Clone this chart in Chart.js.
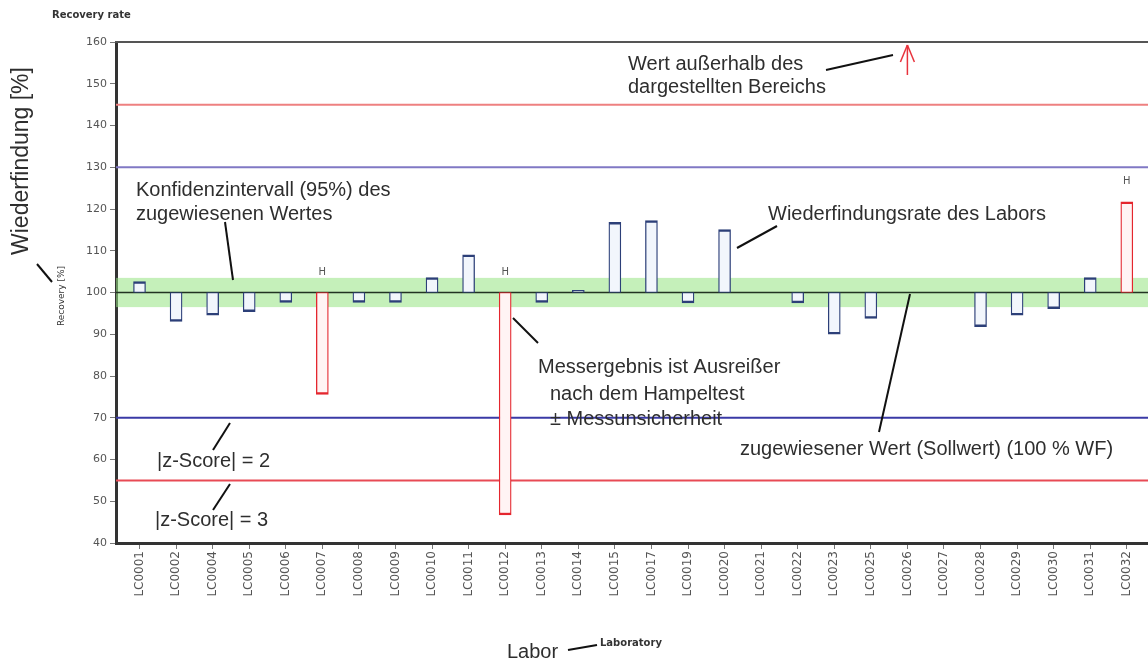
<!DOCTYPE html>
<html>
<head>
<meta charset="utf-8">
<script src="https://cdn.jsdelivr.net/npm/chart.js@4.4.1/dist/chart.umd.min.js"></script>
<style>
  html, body { margin: 0; padding: 0; background: #fff; }
  #wrap { width: 1148px; height: 662px; position: relative; }
</style>
</head>
<body>
<div id="wrap"><canvas id="chart" width="1148" height="662"></canvas></div>
<script>
// Laboratories taking part in the round
const labCodes = ['LC0001','LC0002','LC0004','LC0005','LC0006','LC0007','LC0008','LC0009','LC0010','LC0011',
                  'LC0012','LC0013','LC0014','LC0015','LC0017','LC0019','LC0020','LC0021','LC0022','LC0023',
                  'LC0025','LC0026','LC0027','LC0028','LC0029','LC0030','LC0031','LC0032'];
// Recovery rate of each laboratory in % (null: no bar shown)
const recoveryRates = [102.6, 93.1, 94.6, 95.4, 97.6, 75.6, 97.6, 97.6, 103.6, 109.0,
                       46.7, 97.6, 100.5, 116.8, 117.2, 97.5, 115.1, null, 97.5, 90.0,
                       93.8, null, null, 91.8, 94.6, 96.1, 103.6, 121.7];
// Results flagged as outliers by the Hampel test
const hampelOutliers = ['LC0007', 'LC0012', 'LC0032'];
// Results above the displayed range
const aboveRange = ['LC0026'];
// Assigned value and its 95 % confidence interval
const assignedValue = 100;
const confidenceInterval = [96.5, 103.5];
// |z-score| = 2 and |z-score| = 3 limits
const zScore2Limits = [70, 130];
const zScore3Limits = [55, 145];
// Y axis ticks
const yTicks = [40, 50, 60, 70, 80, 90, 100, 110, 120, 130, 140, 150, 160];

const TEXT = '#2e2e2e';
const FONT = '"Liberation Sans", Arial, sans-serif';
const SMALL = '"DejaVu Sans", sans-serif';

const isOutlier = i => hampelOutliers.includes(labCodes[i]);

const barData = recoveryRates
  .map((v, i) => (v === null ? null : { x: i, y: [assignedValue, v] }))
  .filter(d => d !== null);

function line(ctx, x1, y1, x2, y2, color, w) {
  ctx.save();
  ctx.strokeStyle = color;
  ctx.lineWidth = w;
  ctx.beginPath();
  ctx.moveTo(x1, y1);
  ctx.lineTo(x2, y2);
  ctx.stroke();
  ctx.restore();
}

function text(ctx, str, x, y, font, color, align) {
  ctx.save();
  ctx.font = font;
  ctx.fillStyle = color || TEXT;
  ctx.textAlign = align || 'left';
  ctx.textBaseline = 'middle';
  ctx.fillText(str, x, y);
  ctx.restore();
}

// Reference band and limit lines behind the bars
const referencePlugin = {
  id: 'reference',
  beforeDatasetsDraw(chart) {
    const { ctx, chartArea: a, scales: { y } } = chart;
    ctx.save();
    ctx.beginPath();
    ctx.rect(a.left, a.top, a.right - a.left, a.bottom - a.top);
    ctx.clip();
    const yTop = y.getPixelForValue(confidenceInterval[1]);
    const yBot = y.getPixelForValue(confidenceInterval[0]);
    ctx.fillStyle = 'rgba(150, 228, 130, 0.55)';
    ctx.fillRect(a.left, yTop, a.right - a.left, yBot - yTop);
    const yy = v => y.getPixelForValue(v);
    line(ctx, a.left, yy(zScore3Limits[1]), a.right, yy(zScore3Limits[1]), '#ee8080', 2);
    line(ctx, a.left, yy(zScore2Limits[1]), a.right, yy(zScore2Limits[1]), '#8078c4', 2);
    line(ctx, a.left, yy(zScore2Limits[0]), a.right, yy(zScore2Limits[0]), '#3a3aa6', 2);
    line(ctx, a.left, yy(zScore3Limits[0]), a.right, yy(zScore3Limits[0]), '#e84a55', 2);
    line(ctx, a.left, yy(assignedValue), a.right, yy(assignedValue), '#223322', 1.5);
    ctx.restore();
  },
  afterDraw(chart) {
    const { ctx, chartArea: a, scales: { x, y } } = chart;
    // top frame line
    line(ctx, a.left - 1, a.top, a.right, a.top, '#555', 2);

    // outlier flags
    labCodes.forEach((code, i) => {
      const v = recoveryRates[i];
      if (!hampelOutliers.includes(code) || v === null) return;
      const top = y.getPixelForValue(Math.max(v, assignedValue));
      text(ctx, 'H', x.getPixelForValue(i), top - 20, '10px ' + SMALL, '#555', 'center');
    });

    // arrows for values above the displayed range
    aboveRange.forEach(code => {
      const px = x.getPixelForValue(labCodes.indexOf(code));
      line(ctx, px, a.top + 33, px, a.top + 3, '#e8323c', 1.5);
      line(ctx, px - 7, a.top + 20, px, a.top + 3, '#e8323c', 1.5);
      line(ctx, px + 7, a.top + 20, px, a.top + 3, '#e8323c', 1.5);
    });

    // titles
    text(ctx, 'Recovery rate', 52, 15, 'bold 10px ' + SMALL, '#333');
    ctx.save();
    ctx.translate(22, 161);
    ctx.rotate(-Math.PI / 2);
    text(ctx, 'Wiederfindung [%]', 0, 0, '23px ' + FONT, TEXT, 'center');
    ctx.restore();
    ctx.save();
    ctx.translate(62, 296);
    ctx.rotate(-Math.PI / 2);
    text(ctx, 'Recovery [%]', 0, 0, '9px ' + SMALL, '#333', 'center');
    ctx.restore();
    line(ctx, 37, 264, 52, 282, '#111', 2);

    text(ctx, 'Labor', 507, 652, '20px ' + FONT, TEXT);
    line(ctx, 568, 650, 597, 645, '#111', 2);
    text(ctx, 'Laboratory', 600, 643, 'bold 10px ' + SMALL, '#333');

    // explanatory notes
    const F = '20px ' + FONT;
    text(ctx, 'Wert außerhalb des', 628, 64, F);
    text(ctx, 'dargestellten Bereichs', 628, 87, F);
    line(ctx, 826, 70, 893, 55, '#111', 2);

    text(ctx, 'Konfidenzintervall (95%) des', 136, 190, F);
    text(ctx, 'zugewiesenen Wertes', 136, 214, F);
    line(ctx, 225, 222, 233, 280, '#111', 2);

    text(ctx, 'Wiederfindungsrate des Labors', 768, 214, F);
    line(ctx, 777, 226, 737, 248, '#111', 2);

    text(ctx, 'Messergebnis ist Ausreißer', 538, 367, F);
    text(ctx, 'nach dem Hampeltest', 550, 394, F);
    text(ctx, '± Messunsicherheit', 550, 419, F);
    line(ctx, 513, 318, 538, 343, '#111', 2);

    text(ctx, '|z-Score| = 2', 157, 461, F);
    line(ctx, 213, 450, 230, 423, '#111', 2);
    text(ctx, '|z-Score| = 3', 155, 520, F);
    line(ctx, 213, 510, 230, 484, '#111', 2);

    text(ctx, 'zugewiesener Wert (Sollwert) (100 % WF)', 740, 449, F);
    line(ctx, 879, 432, 910, 294, '#111', 2);
  }
};

new Chart(document.getElementById('chart'), {
  type: 'bar',
  data: {
    datasets: [{
      data: barData,
      barThickness: 12,
      borderSkipped: false,
      backgroundColor: ctx => (isOutlier(ctx.raw.x) ? '#fff4f4' : '#f2f6fc'),
      borderColor: ctx => (isOutlier(ctx.raw.x) ? '#e4262e' : '#2c3f78'),
      borderWidth: ctx => {
        const up = ctx.raw.y[1] >= assignedValue;
        return up ? { top: 2.5, bottom: 1.2, left: 1.3, right: 1.3 }
                  : { top: 1.2, bottom: 2.5, left: 1.3, right: 1.3 };
      }
    }]
  },
  options: {
    responsive: false,
    animation: false,
    devicePixelRatio: 1,
    layout: { padding: { top: 42, left: 0, right: 0, bottom: 0 } },
    plugins: { legend: { display: false }, tooltip: { enabled: false } },
    scales: {
      x: {
        type: 'linear',
        offset: false,
        min: -0.643,
        max: 27.58,
        afterBuildTicks: s => { s.ticks = labCodes.map((c, i) => ({ value: i })); },
        afterFit: s => { s.height = 119; },
        ticks: {
          autoSkip: false,
          minRotation: 90,
          maxRotation: 90,
          padding: 2,
          color: '#555',
          font: { family: SMALL, size: 12 },
          callback: v => labCodes[v]
        },
        grid: { offset: false, drawOnChartArea: false, drawTicks: true, tickLength: 6, color: '#777' },
        border: { display: true, color: '#333', width: 3 }
      },
      y: {
        min: 40,
        max: 160,
        afterBuildTicks: s => { s.ticks = yTicks.map(v => ({ value: v })); },
        afterFit: s => { s.width = 116; },
        ticks: {
          padding: 3,
          color: '#555',
          font: { family: SMALL, size: 11 }
        },
        grid: { drawOnChartArea: false, drawTicks: true, tickLength: 6, color: '#777' },
        border: { display: true, color: '#333', width: 3 }
      }
    }
  },
  plugins: [referencePlugin]
});
</script>
</body>
</html>
